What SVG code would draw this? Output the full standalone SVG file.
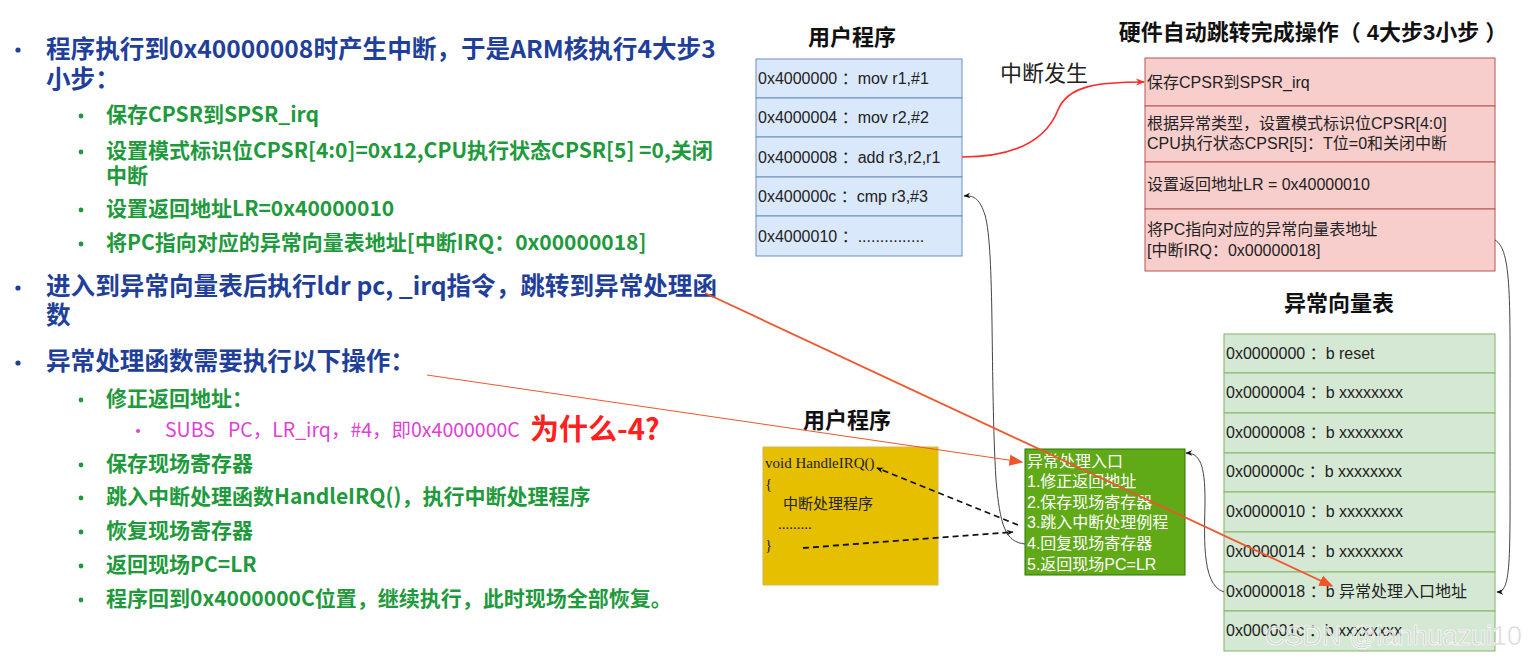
<svg xmlns="http://www.w3.org/2000/svg" width="1529" height="662" viewBox="0 0 1529 662">
<style>
.cjk{font-family:"Noto Sans CJK SC","Noto Sans",sans-serif;}
.b1{font-size:24.6px;font-weight:bold;fill:#1f3f9a;}
.g1{font-size:21px;font-weight:bold;fill:#1e9a3c;}
.bd{fill:#1f3f9a;}
.gd{fill:#1e9a3c;}
.lab{font-family:"Liberation Sans","Noto Sans CJK SC",sans-serif;font-size:16px;fill:#222;}
.ttl{font-family:"Liberation Sans","Noto Sans CJK SC",sans-serif;font-size:22px;font-weight:bold;fill:#111;}
.wl{font-family:"Liberation Sans","Noto Sans CJK SC",sans-serif;font-size:16px;fill:#fff;}
.ser{font-family:"Liberation Serif","Noto Sans CJK SC",serif;font-size:15px;fill:#222;}
.blue{fill:#dae8fc;stroke:#6c8ebf;stroke-width:1;}
.pink{fill:#f8cecc;stroke:#b85450;stroke-width:1;}
.lg{fill:#d5e8d4;stroke:#82b366;stroke-width:1;}
</style>
<defs>
<marker id="ab" viewBox="0 0 10 10" refX="9" refY="5" markerWidth="7" markerHeight="7" orient="auto" markerUnits="userSpaceOnUse"><path d="M0,1 L10,5 L0,9 L3,5 Z" fill="#111"/></marker>
<marker id="ar" viewBox="0 0 10 10" refX="9" refY="5" markerWidth="9" markerHeight="9" orient="auto" markerUnits="userSpaceOnUse"><path d="M0,1 L10,5 L0,9 L3,5 Z" fill="#ff2a2a"/></marker>
<marker id="ao" viewBox="0 0 10 10" refX="9" refY="5" markerWidth="14" markerHeight="14" orient="auto" markerUnits="userSpaceOnUse"><path d="M0,1 L10,5 L0,9 Z" fill="#f0562a"/></marker>
</defs>
<rect width="1529" height="662" fill="#fff"/>

<g id="left-text" class="cjk">
<circle class="bd" cx="18" cy="50" r="2.6"/>
<text class="b1" x="46" y="58">程序执行到0x40000008时产生中断，于是ARM核执行4大步3</text>
<text class="b1" x="46" y="88">小步：</text>
<circle class="gd" cx="81" cy="116" r="2.4"/>
<text class="g1" x="106" y="122">保存CPSR到SPSR_irq</text>
<circle class="gd" cx="81" cy="152" r="2.4"/>
<text class="g1" x="106" y="158">设置模式标识位CPSR[4:0]=0x12,CPU执行状态CPSR[5] =0,关闭</text>
<text class="g1" x="106" y="183">中断</text>
<circle class="gd" cx="81" cy="210" r="2.4"/>
<text class="g1" x="106" y="216">设置返回地址LR=0x40000010</text>
<circle class="gd" cx="81" cy="244" r="2.4"/>
<text class="g1" x="106" y="250">将PC指向对应的异常向量表地址[中断IRQ：0x00000018]</text>
<circle class="bd" cx="18" cy="288" r="2.6"/>
<text class="b1" x="46" y="295">进入到异常向量表后执行ldr pc, _irq指令，跳转到异常处理函</text>
<text class="b1" x="46" y="324">数</text>
<circle class="bd" cx="18" cy="363" r="2.6"/>
<text class="b1" x="46" y="370">异常处理函数需要执行以下操作：</text>
<circle class="gd" cx="81" cy="400" r="2.4"/>
<text class="g1" x="106" y="406">修正返回地址：</text>
<circle cx="138" cy="431" r="2" fill="#e040d8"/>
<text x="165" y="437" font-size="19.5" fill="#e040d8" xml:space="preserve">SUBS   PC，LR_irq，#4，即0x4000000C</text>
<text x="530" y="440" font-size="29" font-weight="bold" fill="#ff2020">为什么-4?</text>
<circle class="gd" cx="81" cy="465" r="2.4"/>
<text class="g1" x="106" y="471">保存现场寄存器</text>
<circle class="gd" cx="81" cy="498" r="2.4"/>
<text class="g1" x="106" y="504">跳入中断处理函数HandleIRQ()，执行中断处理程序</text>
<circle class="gd" cx="81" cy="532" r="2.4"/>
<text class="g1" x="106" y="538">恢复现场寄存器</text>
<circle class="gd" cx="81" cy="566" r="2.4"/>
<text class="g1" x="106" y="572">返回现场PC=LR</text>
<circle class="gd" cx="81" cy="600" r="2.4"/>
<text class="g1" x="106" y="606">程序回到0x4000000C位置，继续执行，此时现场全部恢复。</text>
</g>

<g id="user-program">
<text class="ttl" x="852" y="45" text-anchor="middle">用户程序</text>
<rect class="blue" x="756" y="59" width="206" height="39"/>
<rect class="blue" x="756" y="98" width="206" height="39"/>
<rect class="blue" x="756" y="137" width="206" height="40"/>
<rect class="blue" x="756" y="177" width="206" height="39"/>
<rect class="blue" x="756" y="216" width="206" height="40"/>
<text class="lab" x="758" y="84" xml:space="preserve">0x4000000 ：mov r1,#1</text>
<text class="lab" x="758" y="123" xml:space="preserve">0x4000004 ：mov r2,#2</text>
<text class="lab" x="758" y="163" xml:space="preserve">0x4000008 ：add r3,r2,r1</text>
<text class="lab" x="758" y="202" xml:space="preserve">0x400000c ：cmp r3,#3</text>
<text class="lab" x="758" y="242" xml:space="preserve">0x4000010 ：...............</text>
</g>

<g id="interrupt-label">
<text x="1000" y="81" font-family="Liberation Sans,Noto Sans CJK SC,sans-serif" font-size="22" fill="#222">中断发生</text>
</g>

<g id="hardware-steps">
<text class="ttl" x="1313" y="40" text-anchor="middle" xml:space="preserve">硬件自动跳转完成操作（ 4大步3小步 ）</text>
<rect class="pink" x="1145" y="58" width="350" height="48"/>
<rect class="pink" x="1145" y="106" width="350" height="56"/>
<rect class="pink" x="1145" y="162" width="350" height="47"/>
<rect class="pink" x="1145" y="209" width="350" height="62"/>
<text class="lab" x="1147" y="88">保存CPSR到SPSR_irq</text>
<text class="lab" x="1147" y="129" font-size="16.6">根据异常类型，设置模式标识位CPSR[4:0]</text>
<text class="lab" x="1147" y="149" font-size="16.6">CPU执行状态CPSR[5]：T位=0和关闭中断</text>
<text class="lab" x="1147" y="190">设置返回地址LR = 0x40000010</text>
<text class="lab" x="1147" y="235">将PC指向对应的异常向量表地址</text>
<text class="lab" x="1147" y="256">[中断IRQ：0x00000018]</text>
</g>

<g id="vector-table">
<text class="ttl" x="1339" y="311" text-anchor="middle">异常向量表</text>
<rect class="lg" x="1224" y="334" width="271" height="39"/>
<rect class="lg" x="1224" y="373" width="271" height="40"/>
<rect class="lg" x="1224" y="413" width="271" height="40"/>
<rect class="lg" x="1224" y="453" width="271" height="39"/>
<rect class="lg" x="1224" y="492" width="271" height="40"/>
<rect class="lg" x="1224" y="532" width="271" height="40"/>
<rect class="lg" x="1224" y="572" width="271" height="39"/>
<rect class="lg" x="1224" y="611" width="271" height="40"/>
<text class="lab" x="1226" y="359" xml:space="preserve">0x0000000 ：b reset</text>
<text class="lab" x="1226" y="398" xml:space="preserve">0x0000004 ：b xxxxxxxx</text>
<text class="lab" x="1226" y="438" xml:space="preserve">0x0000008 ：b xxxxxxxx</text>
<text class="lab" x="1226" y="477" xml:space="preserve">0x000000c ：b xxxxxxxx</text>
<text class="lab" x="1226" y="517" xml:space="preserve">0x0000010 ：b xxxxxxxx</text>
<text class="lab" x="1226" y="557" xml:space="preserve">0x0000014 ：b xxxxxxxx</text>
<text class="lab" x="1226" y="597" xml:space="preserve">0x0000018 ：b 异常处理入口地址</text>
<text class="lab" x="1226" y="636" xml:space="preserve">0x000001c ：b xxxxxxxx</text>
</g>

<g id="handler-program">
<text class="ttl" x="847" y="428" text-anchor="middle">用户程序</text>
<rect x="763" y="447" width="175" height="138" fill="#e5bf00" stroke="#d6b656"/>
<text class="ser" x="765" y="468">void HandleIRQ()</text>
<text class="ser" x="765" y="489">{</text>
<text class="ser" x="783" y="509" font-family="Noto Sans CJK SC,sans-serif" font-size="14">中断处理程序</text>
<text class="ser" x="778" y="529">.........</text>
<text class="ser" x="765" y="550">}</text>
</g>

<g id="exception-entry">
<rect x="1025" y="449" width="160" height="126" fill="#60a917" stroke="#2d7600"/>
<text class="wl" x="1027" y="467">异常处理入口</text>
<text class="wl" x="1027" y="487">1.修正返回地址</text>
<text class="wl" x="1027" y="508">2.保存现场寄存器</text>
<text class="wl" x="1027" y="528">3.跳入中断处理例程</text>
<text class="wl" x="1027" y="549">4.回复现场寄存器</text>
<text class="wl" x="1027" y="570">5.返回现场PC=LR</text>
</g>

<g id="connectors" fill="none">
<path d="M962,157 C1030,157 1050,130 1058,110 C1068,85 1100,82 1144,82" stroke="#ff2a2a" stroke-width="1.6" marker-end="url(#ar)"/>
<path d="M1495,240 C1512,250 1510,300 1510,420 C1510,560 1512,592 1497,592" stroke="#444" stroke-width="1" marker-end="url(#ab)"/>
<path d="M1224,592 C1200,585 1205,530 1205,500 C1205,465 1200,453 1186,453" stroke="#444" stroke-width="1" marker-end="url(#ab)"/>
<path d="M1025,544 C1005,542 1000,525 996,480 C990,380 995,250 985,215 C980,200 975,195 964,196" stroke="#444" stroke-width="1" marker-end="url(#ab)"/>
<path d="M1018,525 L877,468" stroke="#111" stroke-width="1.8" stroke-dasharray="6,4" marker-end="url(#ab)"/>
<path d="M803,548 L1013,532" stroke="#111" stroke-width="1.8" stroke-dasharray="6,4" marker-end="url(#ab)"/>
<path d="M427,375 L1022,462" stroke="#f0562a" stroke-width="1" marker-end="url(#ao)"/>
<path d="M705,293 L1332,586" stroke="#f0562a" stroke-width="1.8" marker-end="url(#ao)"/>
</g>

<g id="watermark">
<text x="1522" y="645" text-anchor="end" font-family="Liberation Sans,sans-serif" font-size="27" fill="#cfcfcf" fill-opacity="0.8" stroke="#ffffff" stroke-width="0.6">CSDN @lanhuazui10</text>
</g>
</svg>
